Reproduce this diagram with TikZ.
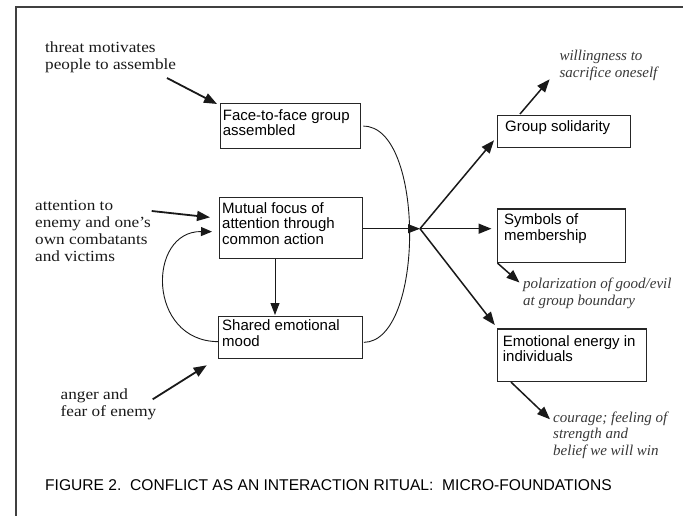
\documentclass[tikz,border=0pt]{standalone}
\usepackage{fontspec}
\setsansfont{Liberation Sans}
\newfontfamily\serifup[FakeStretch=1.11]{Liberation Serif}
\newfontfamily\serifplain{Liberation Serif}
\usetikzlibrary{arrows.meta,calc}
\begin{document}
\begin{tikzpicture}[x=1pt,y=-1pt,
  box/.style={draw=black!85, line width=1.3pt, inner sep=0pt, anchor=north west},
  btxt/.style={font=\sffamily\fontsize{15}{15.6}\selectfont, align=left, anchor=base west, inner sep=0pt},
  stxt/.style={font=\serifup\fontsize{15.5}{16.8}\selectfont, align=left, anchor=base west, inner sep=0pt, text=black!90},
  itxt/.style={font=\serifplain\itshape\fontsize{15}{16.8}\selectfont, align=left, anchor=base west, inner sep=0pt, text=black!78},
  captxt/.style={font=\sffamily\fontsize{15.6}{15.6}\selectfont, anchor=base west, inner sep=0pt},
  inarr/.style={-{Triangle[length=13pt,width=10pt]}, line width=1.8pt, draw=black!90},
  outarr/.style={-{Triangle[length=13pt,width=10pt]}, line width=1.5pt, draw=black!90},
  thinarr/.style={-{Triangle[length=12pt,width=9pt]}, line width=1pt, draw=black!90},
  curve/.style={line width=0.9pt, draw=black!90}
]
\useasboundingbox (0,0) rectangle (683,516);
% frame
\draw[line width=1.4pt, draw=black!75] (16,516) -- (16,7) -- (683,7);

% boxes
\node[box, minimum width=140pt, minimum height=45pt] (face) at (220,103) {};
\node[box, minimum width=143pt, minimum height=61pt] (mutual) at (219,197) {};
\node[box, minimum width=143.5pt, minimum height=42pt] (shared) at (218,316) {};
\node[box, minimum width=133.5pt, minimum height=32pt] (grp) at (496.5,115) {};
\node[box, minimum width=128.5pt, minimum height=53.5pt] (sym) at (496.5,208.3) {};
\node[box, minimum width=149pt, minimum height=52.5pt] (emo) at (496.5,328.3) {};

% box texts (anchor = baseline of last line)
\node[btxt] (facet) at (222.7,136) {Face-to-face group\\assembled};
\node[btxt] (mutualt) at (222,244.3) {Mutual focus of\\attention through\\common action};
\node[btxt] (sharedt) at (222,346.5) {Shared emotional\\mood};
\node[btxt] (grpt) at (505,131.7) {Group solidarity};
\node[btxt] (symt) at (504,240) {Symbols of\\membership};
\node[btxt] (emot) at (502.7,361.7) {Emotional energy in\\individuals};

% left labels
\node[stxt] (threat) at (45,69.3) {threat motivates\\people to assemble};
\node[stxt] (attn) at (35,261) {attention to\\enemy and one’s\\own combatants\\and victims};
\node[stxt] (anger) at (60.5,416.5) {anger and\\fear of enemy};

% right labels
\node[itxt] (will) at (559.3,77.8) {willingness to\\sacrifice oneself};
\node[itxt] (pol) at (523,305) {polarization of good/evil\\at group boundary};
\node[itxt] (cour) at (553,455.7) {courage; feeling of\\strength and\\belief we will win};

% caption
\node[captxt] (caption) at (45,490.5) {FIGURE 2.\ \ CONFLICT AS AN INTERACTION RITUAL:\ \ MICRO-FOUNDATIONS};

% coordinates
\coordinate (j) at (420,228.7);
\coordinate (thrs) at (167,78);
\coordinate (atts) at (151.7,211);
\coordinate (angs) at (152.7,399.3);
\coordinate (vx) at (275,0);

% input arrows
\draw[inarr] (thrs) -- ($(face.north west)+(-3,1)$);
\draw[inarr] (atts) -- ($(mutual.west)+(-9,-10.8)$);
\draw[inarr] (angs) -- ($(shared.south west)+(-11.3,6)$);

% feedback loop
\draw[curve, -{Triangle[length=11pt,width=9pt]}] ($(shared.west)+(0,4)$) .. controls (147,341) and (147,231) .. ($(mutual.west)+(-7,3.5)$);

% mutual -> shared
\draw[thinarr] (mutual.south -| vx) -- ($(shared.north -| vx)+(0,-1)$);

% big curve
\draw[curve] ($(face.east)+(2,0)$) .. controls (425,125.5) and (425,341.7) .. ($(shared.east)+(1,4.7)$);

% mutual -> junction
\draw[line width=1pt, draw=black!90, -{Triangle[length=12pt,width=9pt]}] (mutual.east |- j) -- (j);

% outputs
\draw[outarr] (j) -- ($(grp.south west)+(-2.5,-8)$);
\draw[outarr] (j) -- ($(j -| sym.west)+(-5,0)$);
\draw[outarr] (j) -- ($(emo.north west)+(-1.7,-3.3)$);

% output to labels
\draw[outarr] ($(grp.north west)+(23.5,-1)$) -- (549.6,79.3);
\draw[outarr] ($(sym.south west)+(1,0)$) -- (519.5,282.5);
\draw[outarr] ($(emo.south west)+(14.5,0)$) -- (550,419.3);
\end{tikzpicture}
\end{document}
